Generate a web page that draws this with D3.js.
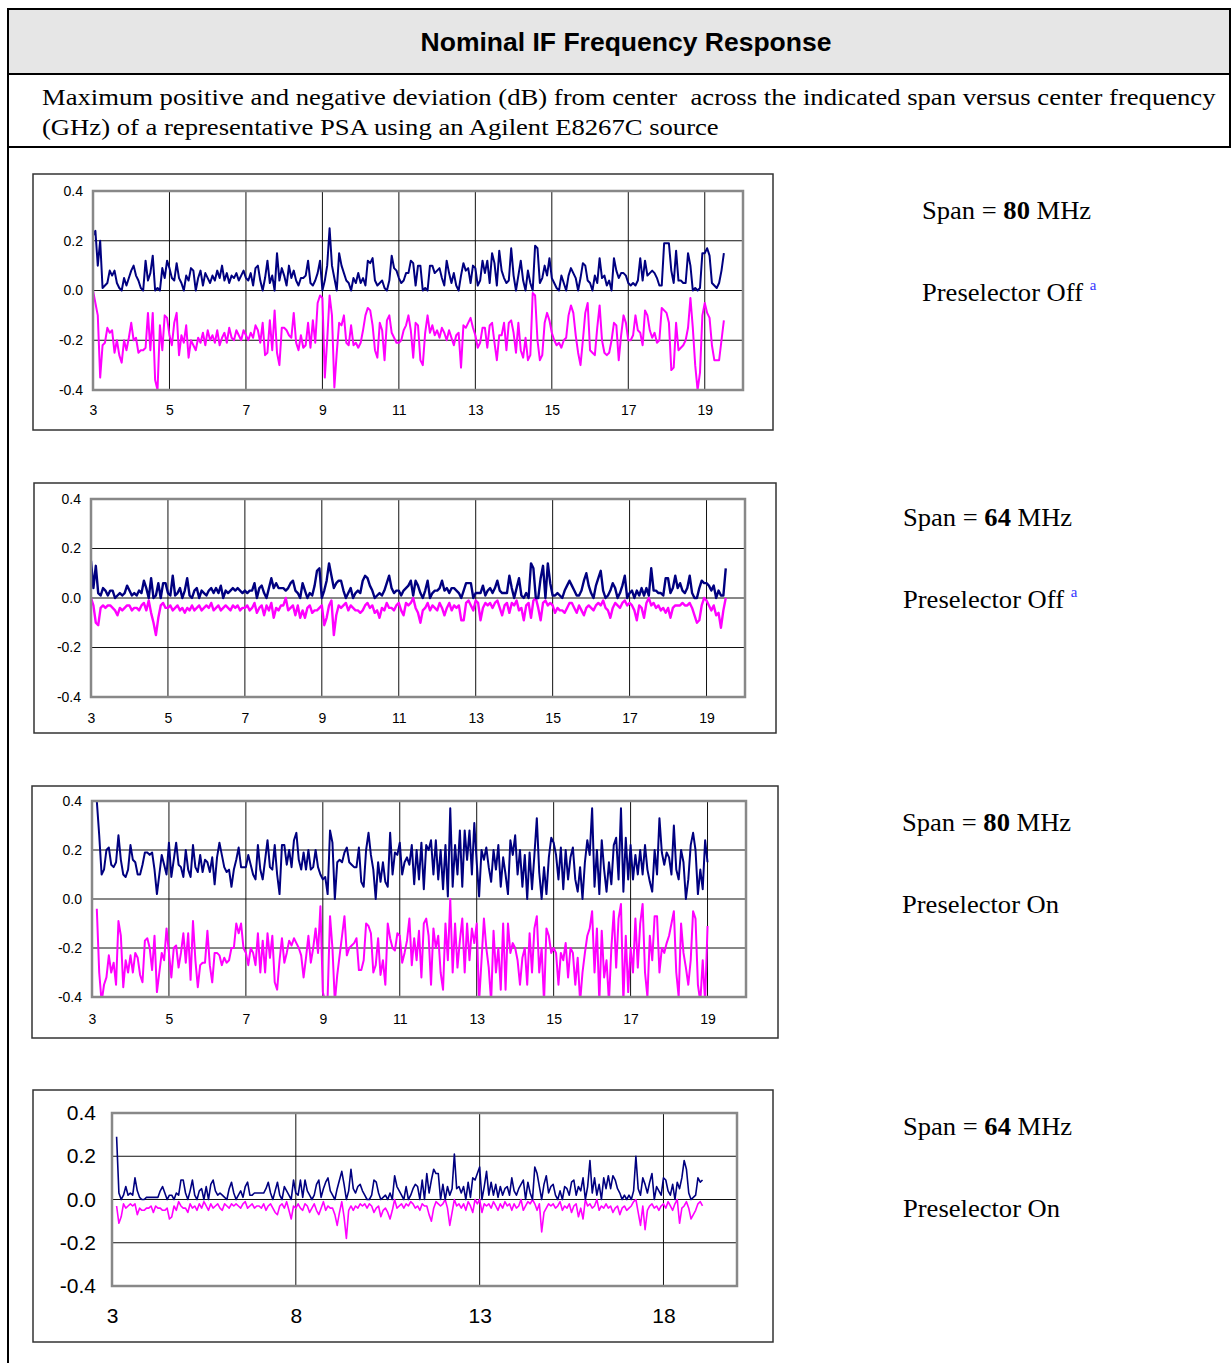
<!DOCTYPE html>
<html><head><meta charset="utf-8">
<script src="https://cdn.jsdelivr.net/npm/d3@7"></script>
<style>body{margin:0;background:#fff}svg{display:block}</style>
</head><body>
<script>
// ---------- DATA (dB deviation, sweep step 1/16 GHz) ----------
const freqStep = 0.0625;
const startFreqs = [3.0, 3.0, 3.125, 3.125];
const xTicksA = [3,5,7,9,11,13,15,17,19];
const xTicksB = [3,8,13,18];
const yTicks = [-0.4,-0.2,0,0.2,0.4];
const yTickLabels = ["-0.4","-0.2","0.0","0.2","0.4"];
const spanValues = ["80","64","80","64"];
const preselectorStates = ["Preselector Off","Preselector Off","Preselector On","Preselector On"];
const footnoteMarks = ["a","a","",""];

const posP1 = [
.22,.24,.10,.20,.01,.02,.03,.08,.06,.08,.03,.01,.00,.05,.02,.05,
.08,.10,.06,.04,.01,.00,.12,.04,.07,.14,.00,.01,.00,.09,.05,.12,
.09,.05,.04,.11,.05,.03,.00,.06,.04,.09,.08,.00,.05,.08,.02,.07,
.05,.03,.06,.04,.08,.05,.10,.04,.07,.03,.06,.05,.07,.04,.06,.08,
.05,.04,.07,.02,.09,.10,.04,.00,.05,.12,.03,.06,.00,.15,.04,.09,
.06,.02,.10,.05,.08,.04,.02,.05,.05,.06,.12,.03,.02,.04,.07,.12,
.00,.04,.10,.25,.10,.05,.00,.15,.10,.07,.04,.03,.00,.05,.03,.07,
.03,.05,.02,.12,.11,.13,.04,.02,.03,.04,.01,.00,.04,.14,.09,.08,
.05,.03,.04,.07,.07,.12,.11,.02,.10,.10,.00,.01,.00,.10,.10,.07,
.08,.09,.05,.02,.12,.07,.03,.07,.02,.00,.06,.11,.08,.09,.03,.10,
.09,.02,.04,.12,.07,.12,.03,.15,.11,.02,.16,.08,.05,.03,.04,.17,
.06,.00,.06,.12,.04,.00,.08,.03,.00,.18,.17,.03,.05,.10,.06,.13,
.05,.03,.01,.00,.06,.03,.00,.06,.09,.07,.05,.00,.05,.11,.10,.04,
.03,.00,.06,.03,.13,.05,.06,.02,.04,.00,.13,.08,.05,.07,.07,.06,
.03,.02,.03,.02,.04,.13,.04,.12,.06,.07,.08,.07,.05,.02,.02,.19,
.19,.19,.08,.03,.16,.04,.04,.03,.03,.15,.10,.00,.01,.00,.01,.15,
.15,.17,.14,.03,.02,.01,.03,.08,.15];
const negP1 = [
.00,-.05,-.10,-.35,-.22,-.21,-.15,-.17,-.16,-.25,-.20,-.26,-.29,-.20,-.24,-.19,
-.13,-.20,-.19,-.25,-.24,-.24,-.23,-.09,-.24,-.09,-.36,-.40,-.14,-.24,-.10,-.11,
-.18,-.22,-.13,-.09,-.26,-.18,-.21,-.14,-.27,-.20,-.22,-.24,-.19,-.21,-.17,-.22,
-.16,-.20,-.18,-.21,-.16,-.22,-.19,-.17,-.21,-.15,-.19,-.20,-.16,-.18,-.20,-.16,
-.18,-.20,-.17,-.19,-.14,-.16,-.21,-.13,-.26,-.25,-.12,-.24,-.08,-.25,-.30,-.15,
-.15,-.16,-.18,-.19,-.09,-.21,-.24,-.18,-.23,-.22,-.13,-.23,-.12,-.21,-.05,-.02,
-.03,-.35,-.20,-.02,-.10,-.39,-.25,-.13,-.14,-.10,-.21,-.22,-.14,-.22,-.21,-.23,
-.21,-.16,-.10,-.07,-.08,-.14,-.24,-.27,-.13,-.16,-.28,-.12,-.10,-.17,-.19,-.21,
-.21,-.20,-.16,-.14,-.10,-.16,-.27,-.13,-.14,-.28,-.30,-.17,-.10,-.17,-.14,-.18,
-.16,-.19,-.15,-.17,-.20,-.16,-.19,-.22,-.18,-.17,-.31,-.14,-.15,-.13,-.11,-.15,
-.18,-.23,-.21,-.15,-.15,-.23,-.14,-.13,-.21,-.28,-.18,-.18,-.13,-.24,-.13,-.12,
-.17,-.25,-.13,-.24,-.27,-.19,-.28,-.26,-.01,-.02,-.20,-.28,-.26,-.13,-.09,-.12,
-.17,-.20,-.22,-.21,-.23,-.20,-.19,-.10,-.06,-.09,-.18,-.25,-.30,-.20,-.09,-.05,
-.24,-.25,-.26,-.15,-.06,-.20,-.25,-.26,-.25,-.20,-.13,-.14,-.28,-.18,-.10,-.13,
-.20,-.20,-.18,-.10,-.16,-.17,-.22,-.08,-.10,-.16,-.19,-.17,-.21,-.20,-.07,-.08,
-.09,-.13,-.32,-.31,-.13,-.24,-.23,-.22,-.20,-.15,-.03,-.15,-.30,-.40,-.33,-.10,
-.05,-.09,-.11,-.22,-.28,-.28,-.28,-.20,-.12];

const posP2 = [
.15,.04,.13,.02,.01,.04,.03,.01,.03,.03,.00,.01,.02,.01,.02,.05,
.03,.01,.02,.01,.03,.02,.07,.04,.00,.08,.00,.01,.06,.00,.06,.06,
.02,.01,.09,.01,.02,.04,.00,.03,.08,.01,.00,.03,.04,.00,.03,.02,
.01,.03,.04,.02,.04,.02,.05,.00,.03,.02,.03,.04,.03,.04,.03,.02,
.03,.02,.03,.03,.06,.00,.04,.05,.02,.00,.04,.08,.04,.06,.04,.04,
.04,.03,.04,.06,.07,.03,.02,.00,.06,.03,.00,.02,.01,.05,.11,.12,
.00,.03,.07,.14,.09,.04,.06,.07,.07,.03,.00,.02,.04,.00,.02,.03,
.02,.07,.09,.08,.05,.03,.00,.01,.02,.01,.03,.06,.09,.04,.02,.03,
.03,.01,.03,.04,.05,.07,.01,.07,.05,.02,.00,.03,.07,.00,.02,.03,
.03,.04,.07,.03,.04,.02,.04,.04,.03,.02,.00,.03,.06,.06,.06,.00,
.02,.02,.02,.05,.01,.03,.04,.02,.04,.07,.03,.02,.02,.02,.09,.04,
.00,.04,.08,.01,.00,.02,.00,.14,.12,.00,.00,.08,.13,.00,.14,.06,
.01,.01,.02,.01,.00,.03,.05,.07,.05,.03,.01,.01,.03,.07,.10,.05,
.02,.00,.05,.08,.11,.03,.00,.01,.03,.06,.04,.00,.02,.05,.09,.00,
.02,.03,.00,.03,.01,.04,.01,.04,.01,.12,.03,.03,.02,.02,.01,.08,
.08,.02,.04,.09,.04,.06,.03,.02,.04,.09,.02,.00,.00,.04,.07,.06,
.06,.05,.03,.05,.00,.03,.01,.01,.12];
const negP2 = [
.00,-.03,-.10,-.11,-.04,-.03,-.04,-.03,-.03,-.04,-.05,-.07,-.04,-.05,-.04,-.03,
-.03,-.05,-.04,-.04,-.05,-.03,-.02,-.05,-.01,-.06,-.10,-.15,-.08,-.03,-.02,-.04,
-.04,-.03,-.05,-.04,-.03,-.05,-.04,-.06,-.04,-.05,-.03,-.05,-.04,-.03,-.05,-.04,
-.03,-.04,-.02,-.05,-.04,-.03,-.05,-.04,-.03,-.04,-.05,-.03,-.04,-.03,-.05,-.04,
-.04,-.03,-.05,-.04,-.02,-.06,-.04,-.03,-.07,-.03,-.05,-.02,-.08,-.04,-.05,-.03,
-.03,.00,-.05,-.04,-.03,-.07,-.03,-.08,-.05,-.08,-.04,-.03,-.06,-.05,-.05,-.04,
-.03,-.11,-.08,-.03,-.01,-.15,-.07,-.03,-.04,-.03,-.02,-.05,-.03,-.04,-.05,-.05,
-.06,-.05,-.03,-.02,-.04,-.03,-.06,-.05,-.08,-.04,-.05,-.02,-.04,-.04,-.05,-.03,
-.02,-.05,-.07,-.02,-.03,-.02,.00,-.04,-.06,-.10,-.05,-.04,-.02,-.05,-.03,-.04,
-.05,-.02,-.04,-.07,-.04,-.02,-.05,-.03,-.04,-.03,-.09,-.09,-.02,-.01,-.03,-.05,
-.01,-.02,-.09,-.04,-.02,-.03,-.02,-.04,-.02,-.01,-.04,-.07,-.03,-.02,-.06,-.02,
-.03,-.01,-.05,-.04,-.09,-.03,-.02,-.08,-.01,.00,-.04,-.09,-.02,-.01,-.03,-.02,
-.03,-.06,-.04,-.05,-.05,-.06,-.04,-.02,-.02,-.04,-.06,-.03,-.05,-.07,-.04,-.03,
-.04,-.05,-.03,-.02,-.03,-.01,-.04,-.05,-.08,-.04,-.02,-.03,-.04,-.02,-.01,-.03,
-.02,-.03,-.05,-.09,-.03,-.04,-.08,-.02,.00,-.03,-.02,-.04,-.03,-.05,-.04,-.06,
-.04,-.08,-.04,-.03,-.03,-.03,-.02,-.03,-.03,-.02,-.04,-.07,-.10,-.09,-.03,.00,
-.01,-.03,-.05,-.03,-.07,-.06,-.12,-.05,.00];

const posP3 = [
.40,.26,.10,.12,.20,.21,.14,.13,.15,.26,.16,.10,.09,.12,
.22,.16,.15,.10,.10,.14,.19,.19,.18,.19,.12,.02,.10,.18,.14,.10,
.23,.09,.16,.23,.14,.13,.09,.20,.12,.09,.22,.13,.11,.18,.11,.16,
.15,.11,.17,.06,.17,.23,.18,.13,.11,.12,.05,.12,.16,.21,.13,.13,
.13,.18,.14,.10,.08,.22,.12,.08,.16,.24,.13,.12,.22,.10,.02,.22,
.22,.14,.20,.13,.24,.27,.16,.12,.19,.12,.20,.12,.13,.20,.13,.10,
.08,.09,.02,.28,.23,.00,.15,.16,.15,.19,.21,.15,.14,.13,.13,.21,
.07,.05,.20,.27,.18,.12,.00,.15,.07,.15,.07,.05,.27,.10,.19,.18,
.23,.10,.15,.17,.14,.22,.06,.20,.08,.23,.04,.22,.20,.24,.10,.24,
.08,.20,.04,.22,.01,.37,.05,.22,.10,.28,.05,.28,.16,.28,.10,.31,
.15,.01,.20,.16,.21,.13,.07,.20,.12,.22,.05,.17,.10,.02,.24,.18,
.26,.10,.20,.05,.18,.00,.19,.04,.18,.33,.11,.00,.13,.02,.17,.25,
.23,.18,.08,.21,.04,.20,.08,.17,.21,.08,.03,.13,.00,.15,.24,.18,
.37,.05,.20,.02,.24,.12,.03,.15,.06,.22,.25,.08,.37,.03,.25,.08,
.22,.08,.18,.10,.20,.10,.22,.12,.07,.03,.20,.10,.33,.19,.14,.19,
.17,.10,.30,.12,.08,.20,.15,.00,.08,.22,.27,.20,.02,.12,.04,.24,
.15];
const negP3 = [
-.04,-.30,-.42,-.35,-.32,-.23,-.30,-.26,-.35,-.09,-.15,-.36,-.25,-.30,
-.23,-.30,-.22,-.24,-.31,-.34,-.17,-.16,-.20,-.29,-.15,-.38,-.30,-.22,-.25,-.12,
-.22,-.32,-.20,-.19,-.28,-.22,-.14,-.26,-.14,-.33,-.09,-.25,-.36,-.27,-.26,-.26,
-.13,-.27,-.34,-.22,-.22,-.23,-.27,-.24,-.26,-.25,-.20,-.20,-.10,-.14,-.10,-.20,
-.22,-.27,-.20,-.22,-.27,-.14,-.30,-.17,-.30,-.14,-.24,-.15,-.34,-.37,-.25,-.16,
-.26,-.22,-.17,-.19,-.16,-.18,-.20,-.23,-.32,-.24,-.15,-.26,-.20,-.12,-.22,-.03,
-.38,-.42,-.40,-.07,-.20,-.42,-.31,-.23,-.15,-.07,-.23,-.20,-.19,-.18,-.16,-.29,
-.29,-.25,-.10,-.11,-.14,-.30,-.27,-.16,-.31,-.25,-.35,-.10,-.16,-.20,-.21,-.14,
-.15,-.26,-.22,-.17,-.08,-.27,-.16,-.25,-.13,-.32,-.10,-.08,-.15,-.35,-.12,-.20,
-.15,-.30,-.37,-.10,-.25,.00,-.30,-.10,-.28,-.17,-.08,-.30,-.10,-.25,-.12,-.18,
-.10,-.42,-.25,-.08,-.20,-.28,-.42,-.13,-.30,-.20,-.37,-.10,-.37,-.10,-.22,-.18,
-.20,-.25,-.35,-.24,-.20,-.35,-.14,-.30,-.12,-.07,-.30,-.20,-.42,-.12,-.15,-.22,
-.20,-.22,-.35,-.22,-.25,-.18,-.32,-.20,-.22,-.35,-.24,-.42,-.30,-.22,-.15,-.12,
-.05,-.30,-.12,-.42,-.13,-.32,-.25,-.42,-.20,-.05,-.28,-.08,-.02,-.42,-.15,-.38,
-.20,-.30,-.08,-.28,-.10,-.02,-.30,-.40,-.15,-.25,-.07,-.07,-.30,-.20,-.22,-.18,
-.15,-.10,-.05,-.30,-.40,-.10,-.22,-.28,-.35,-.25,-.05,-.08,-.35,-.42,-.25,-.42,
-.11];

const posP4 = [
.29,.03,.00,.02,.06,.02,.03,.02,.10,.04,.01,.00,.00,.01,
.01,.01,.01,.01,.01,.04,.06,.03,.00,.02,.02,.00,.03,.02,.09,.09,
.03,.00,.04,.09,.02,.00,.04,.05,.00,.06,.00,.07,.09,.04,.02,.03,
.02,.01,.00,.05,.08,.03,.00,.02,.04,.01,.06,.08,.02,.02,.03,.03,
.03,.03,.03,.05,.08,.03,.00,.04,.08,.02,.00,.06,.04,.02,.00,.09,
.03,.02,.09,.01,.09,.04,.02,.00,.02,.07,.09,.01,.05,.08,.10,.04,
.02,.00,.05,.09,.13,.07,.00,.04,.14,.05,.03,.06,.07,.04,.02,.00,
.00,.02,.09,.08,.03,.00,.01,.02,.00,.03,.00,.11,.06,.04,.02,.00,
.06,.00,.02,.05,.07,.06,.00,.09,.00,.12,.03,.09,.14,.12,.12,.00,
.07,.00,.06,.02,.05,.21,.05,.06,.03,.06,.00,.08,.01,.10,.09,.12,
.15,.00,.06,.13,.02,.08,.02,.07,.01,.06,.02,.05,.06,.02,.10,.04,
.02,.05,.07,.09,.00,.08,.03,.00,.15,.12,.06,.00,.07,.11,.03,.06,
.07,.02,.00,.04,.00,.06,.05,.02,.08,.09,.02,.06,.04,.10,.00,.06,
.18,.03,.10,.02,.07,.00,.10,.05,.11,.05,.11,.09,.05,.03,.00,.02,
.00,.02,.00,.04,.20,.05,.02,.10,.07,.03,.08,.12,.00,.06,.04,.02,
.10,.09,.04,.02,.07,.00,.08,.05,.10,.18,.14,.03,.00,.01,.02,.10,.08,.09];
const negP4 = [
-.03,-.11,-.08,-.02,-.04,-.03,-.02,-.03,-.02,-.07,-.04,-.05,-.05,-.04,
-.04,-.03,-.06,-.03,-.04,-.04,-.05,-.05,-.04,-.09,-.08,-.03,-.05,-.01,-.03,-.04,
-.04,-.06,-.02,-.04,-.03,-.05,-.02,-.04,-.01,-.03,-.05,-.02,-.04,-.03,-.02,-.04,
-.05,-.02,-.03,-.04,-.02,-.03,-.02,-.03,-.04,-.02,-.01,-.04,-.03,-.02,-.04,-.03,
-.03,-.04,-.02,-.05,-.03,-.02,-.04,-.06,-.07,-.03,-.02,-.04,-.01,-.05,-.09,-.03,
-.04,-.02,-.04,-.05,-.02,-.03,-.06,-.04,-.02,-.05,-.07,-.04,-.01,-.05,-.03,-.04,
-.04,-.07,-.12,-.06,-.01,-.08,-.18,-.05,-.03,-.05,-.03,-.04,-.02,-.03,-.02,-.04,
-.02,-.03,-.06,-.04,-.03,-.08,-.05,-.04,-.06,-.09,-.05,.00,-.04,-.03,-.02,-.04,
-.02,-.03,-.01,-.02,-.04,-.03,-.05,-.02,-.03,-.03,-.07,-.10,-.04,-.01,-.02,-.03,
-.02,.00,-.04,-.12,-.06,.00,-.03,-.02,-.04,-.02,-.05,-.01,-.03,-.06,.00,-.02,
.00,-.06,-.02,-.03,-.02,-.04,-.01,-.03,-.05,-.02,-.04,-.01,-.03,-.02,-.05,-.02,
-.04,-.03,.00,-.05,-.03,-.01,-.02,.00,-.02,-.05,-.02,-.15,-.06,-.04,-.02,-.03,
-.02,-.04,-.03,-.01,-.05,-.03,-.04,-.02,-.06,-.03,-.02,-.08,-.04,-.09,.00,-.03,
-.02,-.04,-.03,.00,-.05,-.03,-.04,-.02,-.04,-.03,-.06,-.04,-.03,-.07,-.04,-.03,
-.05,-.04,-.03,-.01,.00,-.06,-.12,-.03,-.14,-.05,-.03,-.02,-.04,-.03,-.05,-.03,
-.02,-.04,-.01,-.03,-.05,-.02,.00,-.11,-.04,-.03,-.01,-.04,-.09,-.07,-.05,-.02,-.01,-.03];

const posSeries = [posP1, posP2, posP3, posP4];
const negSeries = [negP1, negP2, negP3, negP4];

// ---------- LAYOUT ----------
const W = 1231, H = 1363;
const serif = "'Liberation Serif','Times New Roman',serif";
const sans = "'Liberation Sans', Arial, sans-serif";
const layout = [
  {frame:[33,174,740,256], plot:[93,743,191,390], xTicks:xTicksA, font:14, xLabY:416, lw:2,   ypad:10, lab:[922,219,301]},
  {frame:[34,483,742,250], plot:[91,745,499,697], xTicks:xTicksA, font:14, xLabY:724, lw:2.4, ypad:10, lab:[903,526,608]},
  {frame:[32,786,746,252], plot:[92,746,801,997], xTicks:xTicksA, font:14, xLabY:1025, lw:2, ypad:10, lab:[902,831,913]},
  {frame:[33,1090,740,252], plot:[112,737,1113,1286], xTicks:xTicksB, font:21, xLabY:1324, lw:1.6, ypad:16, lab:[903,1135,1217]}
];

const svg = d3.select("body").append("svg").attr("width", W).attr("height", H);

// table structure
svg.append("rect").attr("x",9).attr("y",10).attr("width",W-9).attr("height",64).attr("fill","#e6e6e6");
const hl = (y)=>svg.append("line").attr("x1",7).attr("x2",W).attr("y1",y).attr("y2",y).attr("stroke","#000").attr("stroke-width",2);
hl(9); hl(74); hl(147);
svg.append("line").attr("x1",8).attr("x2",8).attr("y1",8).attr("y2",H).attr("stroke","#000").attr("stroke-width",2);
svg.append("line").attr("x1",W-1).attr("x2",W-1).attr("y1",8).attr("y2",148).attr("stroke","#000").attr("stroke-width",2);

svg.append("text").attr("x",626).attr("y",51).attr("text-anchor","middle")
  .attr("font-family",sans).attr("font-weight","bold").attr("font-size",26.5)
  .text("Nominal IF Frequency Response");
const sub = svg.append("g").attr("transform","translate(42,0) scale(1.11,1)")
  .append("text").attr("font-family",serif).attr("font-size",24).style("white-space","pre");
sub.append("tspan").attr("x",0).attr("y",105).text("Maximum positive and negative deviation (dB) from center  across the indicated span versus center frequency");
sub.append("tspan").attr("x",0).attr("y",135).text("(GHz) of a representative PSA using an Agilent E8267C source");

layout.forEach((L, k) => {
  const g = svg.append("g");
  const [fx,fy,fw,fh] = L.frame;
  g.append("rect").attr("x",fx).attr("y",fy).attr("width",fw).attr("height",fh)
    .attr("fill","#fff").attr("stroke","#333").attr("stroke-width",1.5);
  const [l,r,t,b] = L.plot;
  const x = d3.scaleLinear().domain([3,20]).range([l,r]);
  const y = d3.scaleLinear().domain([-0.4,0.4]).range([b,t]);

  // gridlines
  g.selectAll(".vg").data(L.xTicks).join("line")
    .attr("x1",d=>x(d)).attr("x2",d=>x(d)).attr("y1",t).attr("y2",b)
    .attr("stroke","#111").attr("stroke-width",1);
  g.selectAll(".hg").data(yTicks).join("line")
    .attr("x1",l).attr("x2",r).attr("y1",d=>y(d)).attr("y2",d=>y(d))
    .attr("stroke","#111").attr("stroke-width",1);

  // clip
  const cid = "clip"+k;
  svg.append("clipPath").attr("id",cid).append("rect").attr("x",l).attr("y",t).attr("width",r-l).attr("height",b-t);

  const line = d3.line().x((d,i)=>x(startFreqs[k]+i*freqStep)).y(d=>y(d));
  g.append("path").datum(negSeries[k]).attr("d",line).attr("fill","none")
    .attr("stroke","#ff00ff").attr("stroke-width",L.lw).attr("stroke-linejoin","round").attr("clip-path",`url(#${cid})`);
  g.append("path").datum(posSeries[k]).attr("d",line).attr("fill","none")
    .attr("stroke","#000080").attr("stroke-width",L.lw).attr("stroke-linejoin","round").attr("clip-path",`url(#${cid})`);

  // plot border
  g.append("rect").attr("x",l).attr("y",t).attr("width",r-l).attr("height",b-t)
    .attr("fill","none").attr("stroke","#888").attr("stroke-width",2.5);

  // axes (labels only)
  const ax = g.append("g").attr("transform",`translate(0,${L.xLabY - L.font*0.75})`)
    .call(d3.axisBottom(x).tickValues(L.xTicks).tickFormat(d3.format("d")).tickSize(0).tickPadding(0));
  ax.select(".domain").remove();
  const ay = g.append("g").attr("transform",`translate(${l - L.ypad},0)`)
    .call(d3.axisLeft(y).tickValues(yTicks).tickFormat((d,i)=>yTickLabels[i]).tickSize(0).tickPadding(0));
  ay.select(".domain").remove();
  [ax,ay].forEach(a=>a.attr("font-family",sans).attr("font-size",L.font)
     .selectAll("text").attr("fill","#000"));

  // side labels
  const [lx,ly1,ly2] = L.lab;
  const t1 = svg.append("g").attr("transform",`translate(${lx},0) scale(1.063,1)`).append("text").attr("x",0).attr("y",ly1)
    .attr("font-family",serif).attr("font-size",25).style("white-space","pre");
  t1.append("tspan").text("Span = ");
  t1.append("tspan").attr("font-weight","bold").text(spanValues[k]);
  t1.append("tspan").text(" MHz");
  const t2 = svg.append("g").attr("transform",`translate(${lx},0) scale(1.063,1)`).append("text").attr("x",0).attr("y",ly2)
    .attr("font-family",serif).attr("font-size",25).style("white-space","pre");
  t2.append("tspan").text(preselectorStates[k]);
  if (footnoteMarks[k]) {
    t2.append("tspan").text(" ");
    t2.append("tspan").attr("font-size",14).attr("dy",-11).attr("fill","#3333ff").text(footnoteMarks[k]);
  }
});
</script>
</body></html>
